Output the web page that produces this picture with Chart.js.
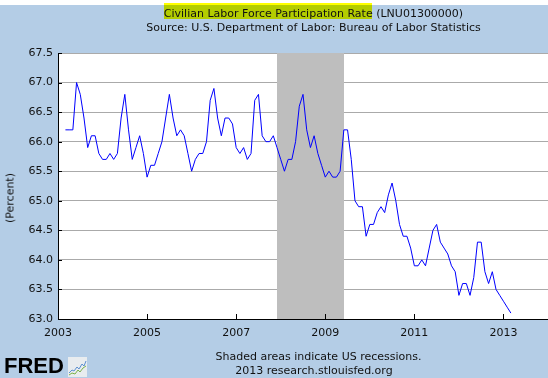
<!DOCTYPE html>
<html><head><meta charset="utf-8">
<script src="https://cdn.jsdelivr.net/npm/chart.js@4.4.1/dist/chart.umd.min.js"></script>
<style>
body{margin:0;background:#fff}
#wrap{position:relative;width:548px;height:378px;background:#b4cde6;overflow:hidden;font-family:"DejaVu Sans",sans-serif;color:#111}
.t{position:absolute;white-space:nowrap;font-size:11px;line-height:13px}
</style></head><body>
<div id="wrap">
<div style="position:absolute;left:0;top:0;width:548px;height:5px;background:#fff"></div>
<div style="position:absolute;left:164px;top:3px;width:208px;height:16px;background:#ff0;mix-blend-mode:multiply"></div>
<div class="t" style="left:0;width:627px;text-align:center;top:7px">Civilian Labor Force Participation Rate (LNU01300000)</div>
<div class="t" style="left:0;width:627px;text-align:center;top:21px">Source: U.S. Department of Labor: Bureau of Labor Statistics</div>
<canvas id="c" width="548" height="378" style="position:absolute;left:0;top:0"></canvas>
<div class="t" style="left:10px;top:198px;transform:translate(-50%,-50%) rotate(-90deg)">(Percent)</div>
<div class="t" style="left:0;width:637px;text-align:center;top:350px">Shaded areas indicate US recessions.</div>
<div class="t" style="left:0;width:628px;text-align:center;top:364px">2013 research.stlouisfed.org</div>
<div style="position:absolute;left:4px;top:354px;font-family:'Liberation Sans',Arial,sans-serif;font-weight:bold;font-size:22px;line-height:24px;color:#000">FRED</div>
<svg style="position:absolute;left:68px;top:357px" width="19" height="20" viewBox="0 0 19 20">
<rect x="0" y="0" width="19" height="20" fill="#e8ecef"/>
<polyline points="1,16 4,13 6,14 9,10 11,12 14,7 16,9 18,4" fill="none" stroke="#5b8fd0" stroke-width="1"/>
<polyline points="1,18 4,16 7,17 10,13 12,15 15,11 18,9" fill="none" stroke="#7ab24a" stroke-width="1"/>
</svg>
</div>
<script>
// categories (monthly observations)
const dates = [
"2003-03","2003-04","2003-05","2003-06","2003-07","2003-08","2003-09","2003-10","2003-11","2003-12",
"2004-01","2004-02","2004-03","2004-04","2004-05","2004-06","2004-07","2004-08","2004-09","2004-10","2004-11","2004-12",
"2005-01","2005-02","2005-03","2005-04","2005-05","2005-06","2005-07","2005-08","2005-09","2005-10","2005-11","2005-12",
"2006-01","2006-02","2006-03","2006-04","2006-05","2006-06","2006-07","2006-08","2006-09","2006-10","2006-11","2006-12",
"2007-01","2007-02","2007-03","2007-04","2007-05","2007-06","2007-07","2007-08","2007-09","2007-10","2007-11","2007-12",
"2008-01","2008-02","2008-03","2008-04","2008-05","2008-06","2008-07","2008-08","2008-09","2008-10","2008-11","2008-12",
"2009-01","2009-02","2009-03","2009-04","2009-05","2009-06","2009-07","2009-08","2009-09","2009-10","2009-11","2009-12",
"2010-01","2010-02","2010-03","2010-04","2010-05","2010-06","2010-07","2010-08","2010-09","2010-10","2010-11","2010-12",
"2011-01","2011-02","2011-03","2011-04","2011-05","2011-06","2011-07","2011-08","2011-09","2011-10","2011-11","2011-12",
"2012-01","2012-02","2012-03","2012-04","2012-05","2012-06","2012-07","2012-08","2012-09","2012-10","2012-11","2012-12",
"2013-01","2013-02","2013-03"];
// series values (Percent)
const rate = [
66.2,66.2,66.2,67.0,66.8,66.4,65.9,66.1,66.1,65.8,
65.7,65.7,65.8,65.7,65.8,66.4,66.8,66.2,65.7,65.9,66.1,65.8,
65.4,65.6,65.6,65.8,66.0,66.4,66.8,66.4,66.1,66.2,66.1,65.8,
65.5,65.7,65.8,65.8,66.0,66.7,66.9,66.4,66.1,66.4,66.4,66.3,
65.9,65.8,65.9,65.7,65.8,66.7,66.8,66.1,66.0,66.0,66.1,65.9,
65.7,65.5,65.7,65.7,66.0,66.6,66.8,66.2,65.9,66.1,65.8,65.6,
65.4,65.5,65.4,65.4,65.5,66.2,66.2,65.7,65.0,64.9,64.9,64.4,
64.6,64.6,64.8,64.9,64.8,65.1,65.3,65.0,64.6,64.4,64.4,64.2,
63.9,63.9,64.0,63.9,64.2,64.5,64.6,64.3,64.2,64.1,63.9,63.8,
63.4,63.6,63.6,63.4,63.7,64.3,64.3,63.8,63.6,63.8,63.5,63.4,
63.3,63.2,63.1];
// tick labels
const yTicks = [63.0,63.5,64.0,64.5,65.0,65.5,66.0,66.5,67.0,67.5];
const xTickYears = [2003,2005,2007,2009,2011,2013];
const xRange = [2003, 2014];
// recession (shaded)
const recession = ["2007-12","2009-06"];

const toYear = s => { const [y,m] = s.split("-").map(Number); return y + (m-1)/12; };
const points = dates.map((d,i)=>({x: toYear(d), y: rate[i]}));

const framePlugin = {
  id:'frame',
  beforeDraw(chart){
    const {ctx, chartArea:a} = chart;
    ctx.save(); ctx.fillStyle='#fff';
    ctx.fillRect(a.left, a.top, a.right-a.left, a.bottom-a.top);
    ctx.restore();
  },
  beforeDatasetsDraw(chart){
    const {ctx, chartArea:a, scales:{x}} = chart;
    const x0 = Math.round(x.getPixelForValue(toYear(recession[0])));
    const x1 = Math.round(x.getPixelForValue(toYear(recession[1])));
    ctx.save(); ctx.fillStyle='#bebebe';
    ctx.fillRect(x0, a.top, x1-x0, a.bottom-a.top);
    ctx.restore();
  },
  afterDatasetsDraw(chart){
    const {ctx, chartArea:a, scales:{x,y}} = chart;
    ctx.save(); ctx.fillStyle='#000';
    const L = Math.round(a.left), B = Math.round(a.bottom);
    ctx.fillRect(L, Math.round(a.top), 1, B-Math.round(a.top)+1);
    ctx.fillRect(L, B, Math.round(a.right)-L, 1);
    yTicks.forEach(v=>{ const py=Math.round(y.getPixelForValue(v)); ctx.fillRect(L, py, 4, 1); });
    xTickYears.forEach(v=>{ const px=Math.round(x.getPixelForValue(v)); ctx.fillRect(px, B-5, 1, 5); });
    ctx.restore();
  }
};

new Chart(document.getElementById('c'), {
  type:'line',
  data:{ datasets:[{ data: points, borderColor:'#0000ff', borderWidth:1, pointRadius:0, tension:0, fill:false }]},
  options:{
    responsive:false, animation:false, devicePixelRatio:1,
    layout:{ padding:{ top:53, right:0, bottom:0, left:0 } },
    plugins:{ legend:{display:false}, tooltip:{enabled:false} },
    scales:{
      x:{ type:'linear', min:xRange[0], max:xRange[1],
          afterBuildTicks(s){ s.ticks = xTickYears.map(v=>({value:v})); },
          afterFit(s){ s.height = 59; },
          grid:{ display:false, drawTicks:false }, border:{display:false},
          ticks:{ color:'#111', padding:8, maxRotation:0, autoSkip:false, font:{family:'DejaVu Sans', size:11}, callback:v=>String(v) } },
      y:{ min:yTicks[0], max:yTicks[yTicks.length-1],
          afterBuildTicks(s){ s.ticks = yTicks.map(v=>({value:v})); },
          afterFit(s){ s.width = 58; },
          grid:{ color:'#aaaaaa', lineWidth:1, drawTicks:false }, border:{display:false},
          ticks:{ color:'#111', padding:5, font:{family:'DejaVu Sans', size:11}, callback:v=>Number(v).toFixed(1) } }
    }
  },
  plugins:[framePlugin]
});
</script>
</body></html>
